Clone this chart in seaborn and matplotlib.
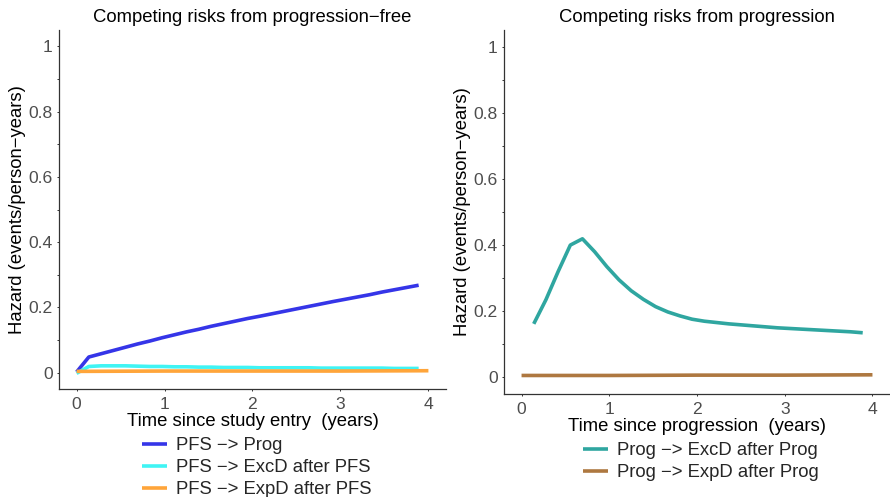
import numpy as np
import pandas as pd
import matplotlib
matplotlib.use("Agg")
import matplotlib.pyplot as plt
import seaborn as sns
from matplotlib.ticker import MultipleLocator

# ---------------- data ----------------
grid_times = [0.139, 0.278, 0.417, 0.556, 0.694, 0.833, 0.972, 1.111, 1.250,
              1.389, 1.528, 1.667, 1.806, 1.944, 2.083, 2.222, 2.361, 2.500,
              2.639, 2.778, 2.917, 3.056, 3.194, 3.333, 3.472, 3.611, 3.750,
              3.889]

pfs_times = [0.0] + grid_times
pfs_prog = [0.002, 0.048, 0.058, 0.068, 0.078, 0.088, 0.097, 0.107, 0.116,
            0.125, 0.133, 0.142, 0.150, 0.158, 0.166, 0.173, 0.1805, 0.188,
            0.1955, 0.203, 0.2105, 0.218, 0.225, 0.232, 0.239, 0.247, 0.254,
            0.261, 0.268]
pfs_excd = [-0.002, 0.019, 0.021, 0.021, 0.021, 0.020, 0.019, 0.019, 0.018,
            0.018, 0.017, 0.017, 0.016, 0.016, 0.016, 0.015, 0.015, 0.015,
            0.015, 0.015, 0.014, 0.014, 0.014, 0.014, 0.014, 0.014, 0.013,
            0.013, 0.013]
pfs_expd_times = [0.0, 1.0, 2.0, 3.0, 4.0]
pfs_expd = [0.004, 0.005, 0.005, 0.005, 0.006]

prog_excd_times = grid_times
prog_excd = [0.162, 0.235, 0.320, 0.400, 0.419, 0.380, 0.335, 0.295, 0.262,
             0.236, 0.214, 0.198, 0.186, 0.176, 0.170, 0.166, 0.162, 0.159,
             0.156, 0.153, 0.150, 0.148, 0.146, 0.144, 0.142, 0.140, 0.138,
             0.135]
prog_expd_times = [0.0, 1.0, 2.0, 3.0, 4.0]
prog_expd = [0.006, 0.006, 0.007, 0.007, 0.008]

left_labels = ["PFS \u2212> Prog", "PFS \u2212> ExcD after PFS",
               "PFS \u2212> ExpD after PFS"]
right_labels = ["Prog \u2212> ExcD after Prog", "Prog \u2212> ExpD after Prog"]
left_colors = ["#3535E8", "#40F4F4", "#FFA53A"]
right_colors = ["#2FA6A0", "#AE7840"]

x_ticks = [0, 1, 2, 3, 4]
y_ticks = [0, 0.2, 0.4, 0.6, 0.8, 1.0]
y_tick_labels = ["0", "0.2", "0.4", "0.6", "0.8", "1"]

titles = ["Competing risks from progression\u2212free",
          "Competing risks from progression"]
x_labels = ["Time since study entry  (years)", "Time since progression  (years)"]
y_label = "Hazard (events/person\u2212years)"

# ---------------- frames ----------------
df_left = pd.concat([
    pd.DataFrame({"time": pfs_times, "hazard": pfs_prog, "series": left_labels[0]}),
    pd.DataFrame({"time": pfs_times, "hazard": pfs_excd, "series": left_labels[1]}),
    pd.DataFrame({"time": pfs_expd_times, "hazard": pfs_expd, "series": left_labels[2]}),
], ignore_index=True)
df_right = pd.concat([
    pd.DataFrame({"time": prog_excd_times, "hazard": prog_excd, "series": right_labels[0]}),
    pd.DataFrame({"time": prog_expd_times, "hazard": prog_expd, "series": right_labels[1]}),
], ignore_index=True)

# ---------------- style ----------------
sns.set_theme(style="ticks")
plt.rcParams["font.family"] = ["Liberation Sans", "DejaVu Sans"]

FS = 13.3
FS_TICK = 12.6
W, H = 890, 497
fig = plt.figure(figsize=(W / 100, H / 100), dpi=100)
ax1 = fig.add_axes([59 / W, 1 - 389 / H, 387 / W, 359 / H])
ax2 = fig.add_axes([504 / W, 1 - 394 / H, 386 / W, 364 / H])

sns.lineplot(data=df_left, x="time", y="hazard", hue="series",
             hue_order=left_labels, palette=left_colors, estimator=None,
             sort=False, linewidth=2.6, legend=False, ax=ax1)
sns.lineplot(data=df_right, x="time", y="hazard", hue="series",
             hue_order=right_labels, palette=right_colors, estimator=None,
             sort=False, linewidth=2.6, legend=False, ax=ax2)

for ax, title, xl in zip([ax1, ax2], titles, x_labels):
    for ln in ax.lines:
        ln.set_solid_capstyle("butt")
    ax.set_xlim(-0.2, 4.2)
    ax.set_ylim(-0.05, 1.05)
    ax.set_xticks(x_ticks)
    ax.set_xticklabels([str(v) for v in x_ticks])
    ax.set_yticks(y_ticks)
    ax.set_yticklabels(y_tick_labels)
    ax.yaxis.set_minor_locator(MultipleLocator(0.1))
    ax.tick_params(axis="both", which="both", length=1.6, width=0.7,
                   color="#333333", labelcolor="#4D4D4D", labelsize=FS_TICK)
    ax.tick_params(axis="y", pad=3)
    ax.tick_params(axis="x", pad=4)
    ax.set_title(title, fontsize=FS, color="black", pad=6)
    ax.set_xlabel(xl, fontsize=FS, color="black", labelpad=1)
    ax.set_ylabel(y_label, fontsize=FS, color="black", labelpad=2)
    sns.despine(ax=ax)
    for s in ["left", "bottom"]:
        ax.spines[s].set_color("#333333")
        ax.spines[s].set_linewidth(0.9)
    ax.set_facecolor("white")

fig.legend(handles=ax1.lines[:3], labels=left_labels, loc="upper left",
           bbox_to_anchor=(141.7 / W, 1 - 437.0 / H), frameon=False,
           fontsize=FS, handlelength=1.35, handletextpad=0.49,
           labelspacing=0.27, borderpad=0, borderaxespad=0)
fig.legend(handles=ax2.lines[:2], labels=right_labels, loc="upper left",
           bbox_to_anchor=(583 / W, 1 - 442.0 / H), frameon=False,
           fontsize=FS, handlelength=1.35, handletextpad=0.49,
           labelspacing=0.27, borderpad=0, borderaxespad=0)

fig.savefig("out.png", dpi=100)
